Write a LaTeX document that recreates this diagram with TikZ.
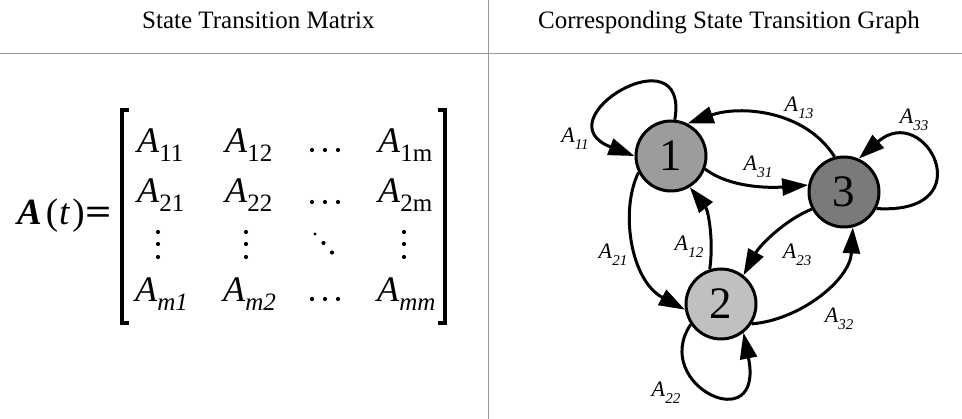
\documentclass[tikz,border=0pt]{standalone}
\usepackage{fontspec}
\usepackage{graphicx}
\setmainfont{Liberation Serif}
\usetikzlibrary{arrows.meta}
\newcommand{\fsz}[1]{\fontsize{#1}{#1}\selectfont}
\newcommand{\Mat}[1]{\textit{A}\raisebox{-9pt}{\fsz{25}#1}}
\newcommand{\Glab}[1]{\textit{A}\raisebox{-7pt}{\fsz{15}\itshape #1}}
\definecolor{gone}{HTML}{9C9C9C}
\definecolor{gtwo}{HTML}{C0C0C0}
\definecolor{gthree}{HTML}{7A7A7A}
\begin{document}
\begin{tikzpicture}[x=1pt,y=-1pt,
  rule/.style={draw=black!40, line width=0.8pt},
  title/.style={font=\fsz{25}, inner sep=0pt, anchor=base west},
  ment/.style={font=\fsz{36}, inner sep=0pt, anchor=base west},
  state/.style={circle, draw, line width=3pt, minimum size=70pt, inner sep=0pt, font=\fsz{45}},
  edge/.style={line width=3pt, -{Triangle[length=26pt,width=17pt]}},
  glab/.style={font=\fsz{22}, inner sep=0pt},
  brk/.style={line width=3.5pt}]
\useasboundingbox (0,0) rectangle (962,419);
\fill[white] (0,0) rectangle (962,419);
% frame lines
\coordinate (hl) at (0,53); \coordinate (hr) at (962,53);
\coordinate (vt) at (488,0); \coordinate (vb) at (488,419);
\draw[rule] (hl) -- (hr);
\draw[rule] (vt) -- (vb);
% titles
\node[title] (t1) at (142,29) {State Transition Matrix};
\node[title] (t2) at (538,29) {Corresponding State Transition Graph};
% A(t)=
\node[ment, font=\fsz{37}] (lhs) at (17,225) {{\bfseries\itshape A}\kern4pt(\kern1pt{\itshape t}\kern3pt){\bfseries\kern1pt\scalebox{1.25}[1]{=}}};
% brackets
\draw[brk] (129,110) -- (122,110) -- (122,323) -- (129,323);
\draw[brk] (438,110) -- (445,110) -- (445,323) -- (438,323);
% entries
\node[ment] (m11) at (137,153) {\Mat{11}};
\node[ment] (m12) at (225,153) {\Mat{12}};
\node[ment] (m1m) at (378,153) {\Mat{1m}};
\node[ment] (m21) at (137,203) {\Mat{21}};
\node[ment] (m22) at (225,203) {\Mat{22}};
\node[ment] (m2m) at (378,203) {\Mat{2m}};
\node[ment] (mm1) at (135,302) {\Mat{\itshape m1}};
\node[ment] (mm2) at (223,302) {\Mat{\itshape m2}};
\node[ment] (mmm) at (377,302) {\Mat{\itshape mm}};
% dots
\foreach \y in {150,202,299} {\foreach \x in {312,325,338} {\fill (\x,\y) circle (2.1pt);}}
\foreach \x in {158,246,404} {\foreach \y in {232,244,257} {\fill (\x,\y) circle (2.1pt);}}
\fill (315,234) circle (1.7pt);
\fill (323.5,243) circle (2.1pt);
\fill (332,252.5) circle (2.1pt);
% graph
\node[state, fill=gone] (n1) at (671,156) {1};
\node[state, fill=gthree] (n3) at (844,192) {3};
\node[state, fill=gtwo] (n2) at (721,304) {2};
\draw[edge] (n1.84) .. controls (690,30) and (540,120) .. (n1.180);
\draw[edge] (n3.105) .. controls (805,110) and (740,105) .. (n1.63);
\draw[edge] (n1.-21) .. controls (730,188) and (770,188) .. (n3.169);
\draw[edge] (n3.-27) .. controls (985,215) and (925,100) .. (n3.66);
\draw[edge] (n1.207) .. controls (620,210) and (630,280) .. (n2.189);
\draw[edge] (n2.108) .. controls (714,240) and (708,210) .. (n1.-59);
\draw[edge] (n3.208) .. controls (785,220) and (760,245) .. (n2.52);
\draw[edge] (n2.-33) .. controls (800,320) and (850,280) .. (n3.-76);
\draw[edge] (n2.214) .. controls (650,385) and (765,440) .. (n2.-52);
% labels
\node[glab] (l11) at (575,139) {\Glab{11}};
\node[glab] (l13) at (799,108) {\Glab{13}};
\node[glab] (l31) at (758,167) {\Glab{31}};
\node[glab] (l33) at (914,120) {\Glab{33}};
\node[glab] (l21) at (613,255) {\Glab{21}};
\node[glab] (l12) at (689,247) {\Glab{12}};
\node[glab] (l23) at (797,255) {\Glab{23}};
\node[glab] (l32) at (839,319) {\Glab{32}};
\node[glab] (l22) at (666,393) {\Glab{22}};
\end{tikzpicture}
\end{document}
